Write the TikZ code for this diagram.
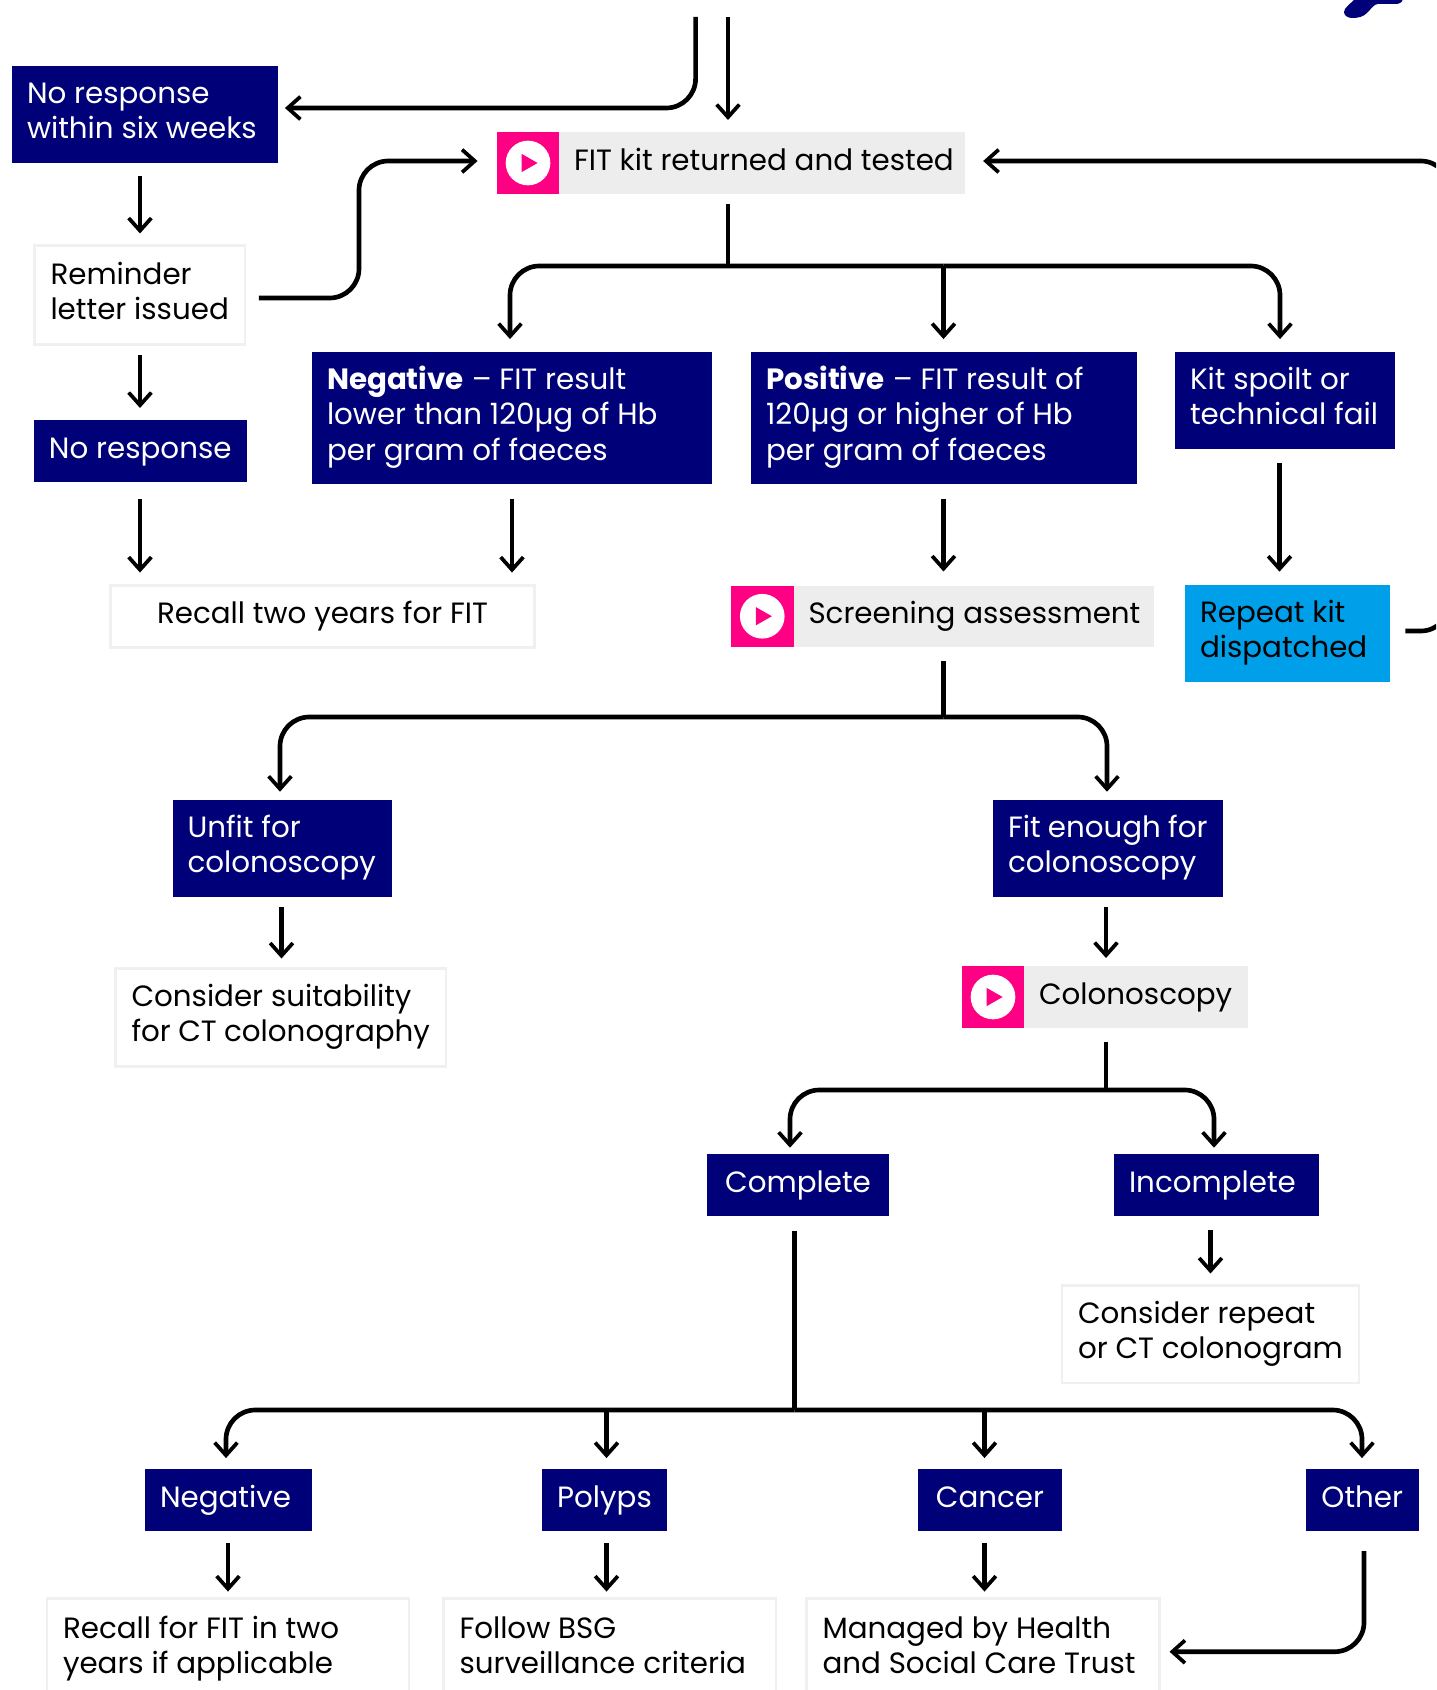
\documentclass[tikz,border=0pt]{standalone}
\usepackage{fontspec}
\setmainfont{Poppins}
\usetikzlibrary{arrows.meta}
\definecolor{navy}{RGB}{0,0,120}
\definecolor{hotpink}{RGB}{255,0,133}
\definecolor{paleg}{RGB}{237,237,237}
\definecolor{edgeg}{RGB}{240,240,240}
\definecolor{skyb}{RGB}{0,159,233}
\tikzset{
  base/.style={inner ysep=0pt,inner xsep=11.25pt,outer sep=0pt,font=\fontsize{22}{26.5}\selectfont,align=flush left,execute at begin node={\rule[-7.95pt]{0pt}{26pt}},execute at end node=\strut},
  navybox/.style={base,fill=navy,text=white},
  navymid/.style={navybox,align=flush center},
  noteb/.style={base,draw=edgeg,line width=2.2pt,fill=white,text=black,inner xsep=12pt,text width=\bxN pt},
  notemid/.style={noteb,align=flush center},
  blueb/.style={base,fill=skyb,text=black},
  greyb/.style={base,fill=paleg,text=black},
  pinkb/.style={fill=hotpink,inner sep=0pt,outer sep=0pt},
  disc/.style={circle,fill=white,inner sep=0pt,outer sep=0pt,minimum size=33.5pt},
  line/.style={draw=black,line width=3.5pt,rounded corners=22pt},
  arr/.style={line,-{Straight Barb[length=9.5pt,width=17pt,line width=2.8pt]}},
}
\newcommand\bx[7]{%
  \pgfmathsetmacro\bxW{(#5-#3)*0.75}%
  \pgfmathsetmacro\bxH{(#6-#4)*0.75}%
  \pgfmathsetmacro\bxT{\bxW-22.5}%
  \pgfmathsetmacro\bxN{\bxW-24}%
  \pgfmathsetmacro\bxX{(#3+#5)/2}%
  \pgfmathsetmacro\bxY{(#4+#6)/2}%
  \node[minimum width=\bxW pt,minimum height=\bxH pt,text width=\bxT pt,#1] (#2) at (\bxX,\bxY) {#7};}
\newcommand\pk[5]{%
  \pgfmathsetmacro\bxW{(#4-#2)*0.75}%
  \pgfmathsetmacro\bxH{(#5-#3)*0.75}%
  \pgfmathsetmacro\bxX{(#2+#4)/2}%
  \pgfmathsetmacro\bxY{(#3+#5)/2}%
  \node[pinkb,minimum width=\bxW pt,minimum height=\bxH pt] (#1) at (\bxX,\bxY) {};
  \node[disc] (#1d) at (#1.center) {};
  \fill[hotpink] ([xshift=-4.7pt,yshift=6.8pt]#1.center) -- ([xshift=7.2pt]#1.center) -- ([xshift=-4.7pt,yshift=-6.8pt]#1.center) -- cycle;}
\begin{document}
\begin{tikzpicture}[x=0.75pt,y=-0.75pt]
\useasboundingbox (0,0) rectangle (1436,1690);
\clip (0,0) rectangle (1436,1690);
% logo fragment
\fill[navy] (1355,-1) -- (1403,-1) .. controls (1402,3) and (1399,4) .. (1395,4) -- (1378,4) .. controls (1374,4) and (1372,8) .. (1367,13) .. controls (1363,17) and (1358,18) .. (1352,18) .. controls (1347,18) and (1344,15) .. (1344,12) .. controls (1344,8) and (1350,4) .. (1355,-1) -- cycle;
% boxes
\bx{navybox}{no6}{12}{66}{278}{163}{No response\\within six weeks}
\bx{noteb}{rem}{34.5}{245.5}{245}{344.5}{Reminder\\letter issued}
\bx{navymid}{nores}{33.5}{420}{247}{482}{No response}
\pk{fitp}{497}{132}{559}{194}
\bx{greyb}{fit}{559}{132}{964.5}{194}{\mbox{FIT kit returned and tested}}
\bx{navybox}{neg}{312}{352}{712}{484}{\textbf{Negative} – FIT result\\lower than 120µg of Hb\\per gram of faeces}
\bx{navybox}{pos}{751}{352}{1137}{484}{\textbf{Positive} – FIT result of\\120µg or higher of Hb\\per gram of faeces}
\bx{navybox}{kit}{1175}{352}{1395}{449}{Kit spoilt or\\technical fail}
\bx{notemid}{rec}{110.5}{585.5}{534.5}{647.5}{Recall two years for FIT}
\pk{scrp}{731}{585.5}{793.5}{647}
\bx{greyb}{scr}{793.5}{585.5}{1153.5}{647}{\mbox{Screening assessment}}
\bx{blueb}{rep}{1185}{585}{1390}{682}{Repeat kit\\dispatched}
\bx{navybox}{unf}{172.5}{800}{391.5}{897}{Unfit for\\colonoscopy}
\bx{navybox}{fite}{993}{800}{1222.5}{897}{Fit enough for\\colonoscopy}
\bx{noteb}{sui}{115.5}{968.5}{446}{1066.5}{Consider suitability\\for CT colonography}
\pk{colp}{962}{966}{1024}{1028}
\bx{greyb}{col}{1024}{966}{1248}{1028}{\mbox{Colonoscopy}}
\bx{navymid}{com}{707}{1154}{889}{1216}{Complete}
\bx{navybox}{inc}{1114}{1154}{1318.5}{1216}{Incomplete}
\bx{noteb}{cre}{1062}{1285.5}{1359}{1383}{Consider repeat\\or CT colonogram}
\bx{navybox}{nneg}{145}{1469}{312}{1531}{Negative}
\bx{navymid}{pol}{542}{1469}{667}{1531}{Polyps}
\bx{navymid}{can}{918}{1469}{1062}{1531}{Cancer}
\bx{navymid}{oth}{1305.5}{1469}{1419}{1531}{Other}
\bx{noteb}{rfit}{47}{1598.5}{409}{1700}{Recall for FIT in two\\years if applicable}
\bx{noteb}{fol}{443.5}{1598.5}{776}{1700}{Follow BSG\\surveillance criteria}
\bx{noteb}{man}{806.5}{1598.5}{1159.5}{1700}{Managed by Health\\and Social Care Trust}
% named free ends and routing points
\coordinate (topa) at (695.6,17);
\coordinate (topb) at (728,17);
\coordinate (cornerno) at (695.6,108);
\coordinate (noy) at (0,108);
\coordinate (remy) at (0,298);
\coordinate (fity) at (0,161);
\coordinate (remv) at (359,230);
\coordinate (x140) at (140,0);
\coordinate (x512) at (512,0);
\coordinate (x943) at (943.5,0);
\coordinate (x1280) at (1279.5,0);
\coordinate (bus1) at (728,266);
\coordinate (bus1l) at (510,266);
\coordinate (bus1m) at (943.5,266);
\coordinate (bus1r) at (1280,266);
\coordinate (bus2) at (943.5,717);
\coordinate (bus2l) at (280,717);
\coordinate (bus2r) at (1107,717);
\coordinate (x281) at (281.5,0);
\coordinate (x1106) at (1106,0);
\coordinate (bus3) at (1106,1090);
\coordinate (bus3l) at (790,1090);
\coordinate (bus3r) at (1214,1090);
\coordinate (x1210) at (1210.5,0);
\coordinate (bus4) at (794.5,1410);
\coordinate (bus4l) at (226,1410);
\coordinate (bus4p) at (606.5,1410);
\coordinate (bus4c) at (984.5,1410);
\coordinate (bus4r) at (1362,1410);
\coordinate (x228) at (228,0);
\coordinate (x606) at (606.5,0);
\coordinate (x986) at (984.5,0);
\coordinate (x1367) at (1364,0);
\coordinate (repy) at (0,631);
\coordinate (offr) at (1450,0);
\coordinate (many) at (0,1651.7);
% top connectors
\draw[arr,shorten >=5.2pt] (topa) -- (cornerno) -- (no6.east |- noy);
\draw[arr,shorten >=9pt] (topb) -- (fitp.north -| topb);
\draw[arr,shorten <=9.7pt,shorten >=9pt] (no6.south -| x140) -- (rem.north -| x140);
\draw[arr,shorten <=10.4pt,shorten >=14.6pt] (rem.east |- remy) -- (remv |- remy) -- (remv |- fity) -- (fitp.west |- fity);
\draw[arr,shorten <=8.2pt,shorten >=9pt] (rem.south -| x140) -- (nores.north -| x140);
\draw[arr,shorten <=12.8pt,shorten >=9.7pt] (nores.south -| x140) -- (rec.north -| x140);
% FIT result branch
\draw[line,shorten <=7.5pt] (fit.south -| topb) -- (bus1);
\draw[arr,shorten >=9.7pt] (bus1m) -- (bus1l) -- (neg.north -| bus1l);
\draw[arr,shorten >=9.7pt] (bus1m) -- (pos.north -| bus1m);
\draw[arr,shorten >=9.7pt] (bus1m) -- (bus1r) -- (kit.north -| bus1r);
\draw[arr,shorten <=11.2pt,shorten >=9.7pt] (neg.south -| x512) -- (rec.north -| x512);
\draw[arr,shorten <=11.2pt,shorten >=10.5pt] (pos.south -| x943) -- (scr.north -| x943);
\draw[arr,shorten <=10.5pt,shorten >=10pt] (kit.south -| x1280) -- (rep.north -| x1280);
\draw[arr,shorten <=11.5pt,shorten >=14pt] (rep.east |- repy) -- (offr |- repy) -- (offr |- fity) -- (fit.east |- fity);
% screening branch
\draw[line,shorten <=10.5pt] (scr.south -| bus2) -- (bus2);
\draw[arr,shorten >=6.2pt] (bus2) -- (bus2l) -- (unf.north -| bus2l);
\draw[arr,shorten >=6.2pt] (bus2) -- (bus2r) -- (fite.north -| bus2r);
\draw[arr,shorten <=7.5pt,shorten >=7.5pt] (unf.south -| x281) -- (sui.north -| x281);
\draw[arr,shorten <=7.5pt,shorten >=6pt] (fite.south -| x1106) -- (col.north -| x1106);
% colonoscopy branch
\draw[line,shorten <=10.5pt] (col.south -| bus3) -- (bus3);
\draw[arr,shorten >=4.7pt] (bus3) -- (bus3l) -- (com.north -| bus3l);
\draw[arr,shorten >=4.7pt] (bus3) -- (bus3r) -- (inc.north -| bus3r);
\draw[arr,shorten <=10.5pt,shorten >=9pt] (inc.south -| x1210) -- (cre.north -| x1210);
\draw[line,shorten <=11.2pt] (com.south -| bus4) -- (bus4);
\draw[arr,shorten >=8.2pt] (bus4) -- (bus4l) -- (nneg.north -| bus4l);
\draw[arr,shorten >=8.2pt] (bus4p) -- (pol.north -| bus4p);
\draw[arr,shorten >=8.2pt] (bus4c) -- (can.north -| bus4c);
\draw[arr,shorten >=8.2pt] (bus4) -- (bus4r) -- (oth.north -| bus4r);
\draw[arr,shorten <=8.7pt,shorten >=5.2pt] (nneg.south -| x228) -- (rfit.north -| x228);
\draw[arr,shorten <=9pt,shorten >=5.2pt] (pol.south -| x606) -- (fol.north -| x606);
\draw[arr,shorten <=9pt,shorten >=5.2pt] (can.south -| x986) -- (man.north -| x986);
\draw[arr,shorten <=15pt,shorten >=7.5pt] (oth.south -| x1367) -- (x1367 |- many) -- (man.east |- many);
\end{tikzpicture}
\end{document}
